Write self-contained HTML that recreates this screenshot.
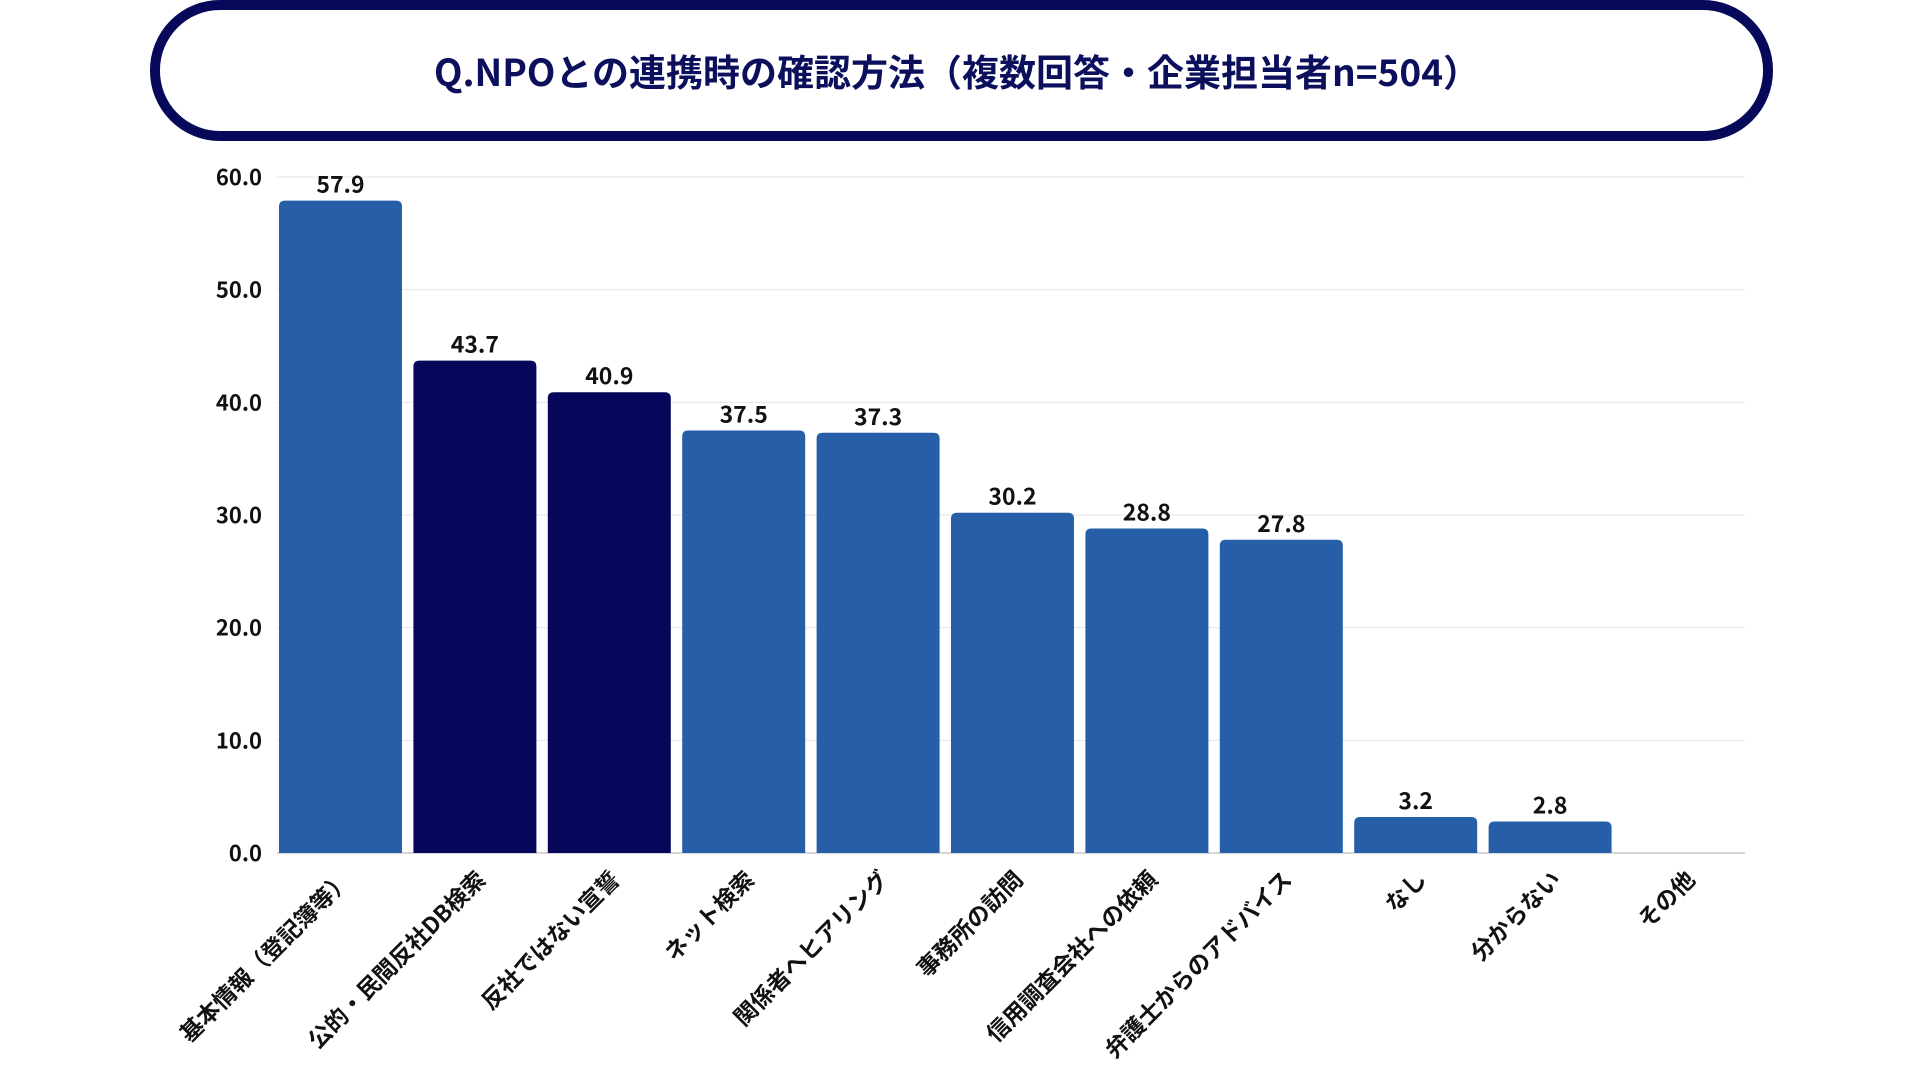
<!DOCTYPE html>
<html><head><meta charset="utf-8"><style>
html,body{margin:0;padding:0;background:#fff;width:1920px;height:1080px;overflow:hidden}
svg{display:block;font-family:"Noto Sans CJK JP","Liberation Sans",sans-serif}
</style></head><body>
<svg id="chart" width="1920" height="1080" viewBox="0 0 1920 1080">
<rect x="155" y="5" width="1613" height="131" rx="65" ry="65" fill="#fff" stroke="#06085a" stroke-width="10"/>
<text x="957" y="86" text-anchor="middle" font-size="37" font-weight="bold" fill="#0b0f5c" font-family="'Noto Sans CJK JP',sans-serif">Q.NPOとの連携時の確認方法（複数回答・企業担当者n=504）</text>
<g id="grid"></g><g id="bars"></g><g id="labels"></g>
</svg>
<script>
const categories=["基本情報（登記簿等）","公的・民間反社DB検索","反社ではない宣誓","ネット検索","関係者へヒアリング","事務所の訪問","信用調査会社への依頼","弁護士からのアドバイス","なし","分からない","その他"];
const values=[57.9,43.7,40.9,37.5,37.3,30.2,28.8,27.8,3.2,2.8,0];
const highlighted=[false,true,true,false,false,false,false,false,false,false,false];
const yTicks=[0,10,20,30,40,50,60];
const NS="http://www.w3.org/2000/svg";
const x0=279,slot=134.4,bw=123,yBase=853,yTop=177,yMax=60,xRight=1745;
function y(v){return yBase-(v/yMax)*(yBase-yTop);}
function x(i){return x0+i*slot;}
function mk(t,a,p){const e=document.createElementNS(NS,t);for(const k in a)e.setAttribute(k,a[k]);p.appendChild(e);return e;}
const grid=document.getElementById('grid'),bars=document.getElementById('bars'),labels=document.getElementById('labels');
yTicks.forEach(t=>{
  const l=mk('line',{x1:277,x2:xRight,y1:y(t),y2:y(t),stroke:t===0?'#c8c8c8':'#e4e4e4','stroke-width':t===0?1.5:1},grid);
  
  
  const tx=mk('text',{x:262,y:y(t)+8,'text-anchor':'end','font-size':22,'font-weight':'bold',fill:'#111'},grid);
  tx.textContent=t.toFixed(1);
  
  
});
values.forEach((v,i)=>{
  const bx=x(i),by=y(v),h=yBase-by,r=Math.min(6,h);
  if(v>0){
    const p=mk('path',{d:`M${bx},${yBase} V${by+r} Q${bx},${by} ${bx+r},${by} H${bx+bw-r} Q${bx+bw},${by} ${bx+bw},${by+r} V${yBase} Z`,fill:highlighted[i]?'#06075a':'#265fa8'},bars);
    
    
    const vt=mk('text',{x:bx+bw/2,y:by-8,'text-anchor':'middle','font-size':23,'font-weight':'bold',fill:'#111'},labels);
    vt.textContent=v.toFixed(1);
    
    
  }
  const cx=bx+bw/2+12,cy=yBase+28;
  const ct=mk('text',{x:cx,y:cy,'text-anchor':'end','font-size':23,'font-weight':'bold',fill:'#111','font-family':"'Noto Sans CJK JP',sans-serif",transform:`rotate(-45 ${cx} ${cy})`},labels);
  ct.textContent=categories[i];
  
  
});
</script>
</body></html>
